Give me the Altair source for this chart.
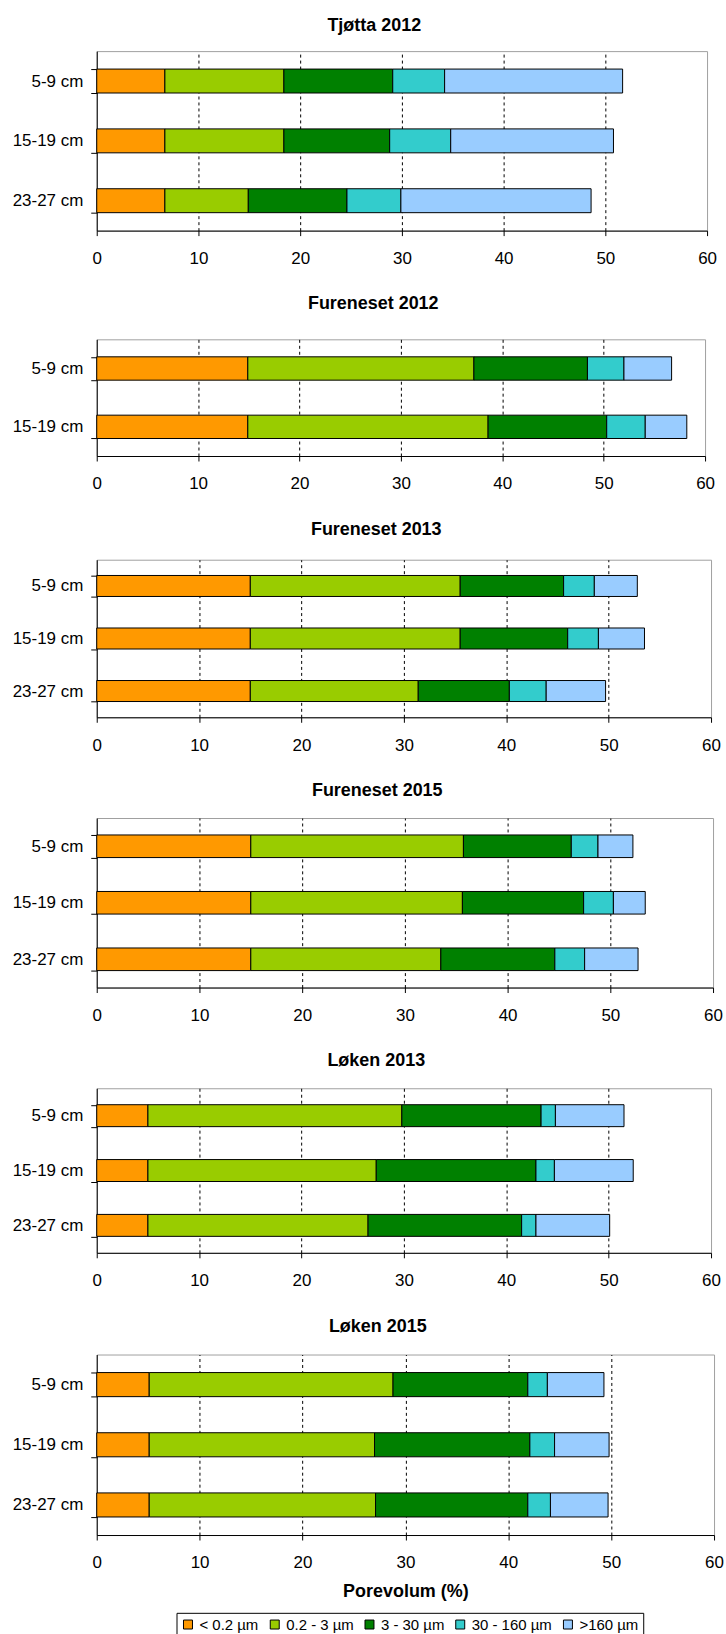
import altair as alt
import pandas as pd

# Pore size classes and their fill colours
classes = ["< 0.2 µm", "0.2 - 3 µm", "3 - 30 µm", "30 - 160 µm", ">160 µm"]
class_colors = ["#FF9900", "#99CC00", "#008000", "#33CCCC", "#99CCFF"]

depths3 = ["5-9 cm", "15-19 cm", "23-27 cm"]
depths2 = ["5-9 cm", "15-19 cm"]

# Pore volume (%) per class, one row per sampling depth
tjotta_2012 = [
    [6.7, 11.7, 10.7, 5.1, 17.5],
    [6.7, 11.7, 10.4, 6.0, 16.0],
    [6.7, 8.2, 9.7, 5.3, 18.7],
]
fureneset_2012 = [
    [14.9, 22.3, 11.2, 3.6, 4.7],
    [14.9, 23.7, 11.7, 3.8, 4.1],
]
fureneset_2013 = [
    [15.0, 20.5, 10.1, 3.0, 4.2],
    [15.0, 20.5, 10.5, 3.0, 4.5],
    [15.0, 16.4, 8.9, 3.6, 5.8],
]
fureneset_2015 = [
    [15.0, 20.7, 10.5, 2.6, 3.4],
    [15.0, 20.6, 11.8, 2.9, 3.1],
    [15.0, 18.5, 11.1, 2.9, 5.2],
]
loken_2013 = [
    [5.0, 24.8, 13.6, 1.4, 6.7],
    [5.0, 22.3, 15.6, 1.8, 7.7],
    [5.0, 21.5, 15.0, 1.4, 7.2],
]
loken_2015 = [
    [5.1, 23.7, 13.1, 1.9, 5.5],
    [5.1, 21.9, 15.1, 2.4, 5.3],
    [5.1, 22.0, 14.8, 2.2, 5.6],
]

x_ticks = [0, 10, 20, 30, 40, 50, 60]

panels = [
    ("Tjøtta 2012", depths3, tjotta_2012),
    ("Fureneset 2012", depths2, fureneset_2012),
    ("Fureneset 2013", depths3, fureneset_2013),
    ("Fureneset 2015", depths3, fureneset_2015),
    ("Løken 2013", depths3, loken_2013),
    ("Løken 2015", depths3, loken_2015),
]

# Layout: plot sizes and title offsets for each panel
panel_width = [612, 610, 616, 618, 616, 619]
panel_height = [180, 117, 158, 170, 165, 181]
title_offset = [7, 17, 12, 9, 9, 10]

FONT = "Liberation Sans"
PAD_LEFT, PAD_TOP = 11, 14

# Legend sits under the last panel, positioned relative to its plot area
legend = alt.Legend(
    title=None, orient="none", legendX=80, legendY=259,
    direction="horizontal", columns=5, symbolType="square", symbolSize=81,
    symbolStrokeColor="black", symbolStrokeWidth=1, symbolOpacity=1,
    labelFont=FONT, labelFontSize=15, labelColor="black", labelOffset=4,
    columnPadding=8, strokeColor="black", fillColor="white", padding=4,
)

charts = []
for i, (name, depths, rows) in enumerate(panels):
    records = []
    for d, vals in zip(depths, rows):
        for k, (c, v) in enumerate(zip(classes, vals)):
            records.append({"depth": d, "cls": c, "k": k, "value": v})
    df = pd.DataFrame(records)
    last = i == len(panels) - 1

    x_axis = alt.Axis(
        values=x_ticks, grid=True, gridDash=[3, 3], gridColor="black", gridWidth=1,
        gridOpacity={"condition": {"test": "datum.value > 0 && datum.value < 60", "value": 1}, "value": 0},
        tickSize=5, tickColor="black", domainColor="black", labelPadding=15,
        labelFont=FONT, labelFontSize=17, labelColor="black", labelFlush=False,
        title="Porevolum (%)" if last else None,
        titleFont=FONT, titleFontSize=18, titleFontWeight="bold", titleColor="black",
        titlePadding=12,
    )
    y_axis = alt.Axis(
        title=None, tickBand="extent", tickSize=6, tickColor="black",
        domainColor="black", labelPadding=8, labelFont=FONT, labelFontSize=17,
        labelColor="black", grid=False,
    )
    chart = alt.Chart(df).mark_bar(stroke="black", strokeWidth=1).encode(
        x=alt.X("value:Q", stack="zero", scale=alt.Scale(domain=[0, 60], nice=False), axis=x_axis),
        y=alt.Y("depth:N", sort=depths, scale=alt.Scale(paddingInner=0.6, paddingOuter=0.3), axis=y_axis),
        color=alt.Color("cls:N", scale=alt.Scale(domain=classes, range=class_colors),
                        legend=legend if last else None),
        order=alt.Order("k:Q"),
    ).properties(
        width=panel_width[i], height=panel_height[i],
        title=alt.TitleParams(
            name, font=FONT, fontSize=18, fontWeight="bold", color="black",
            anchor="middle", frame="bounds", dx=10, offset=title_offset[i],
        ),
    )
    charts.append(chart)

chart = alt.vconcat(*charts, spacing=27).resolve_legend(color="independent").properties(
    padding={"left": PAD_LEFT, "top": PAD_TOP, "right": 2, "bottom": 0},
    background="white",
).configure_view(stroke="#a0a0a0", strokeWidth=1)

chart.save("out.html", embed_options={"renderer": "svg", "actions": False})
